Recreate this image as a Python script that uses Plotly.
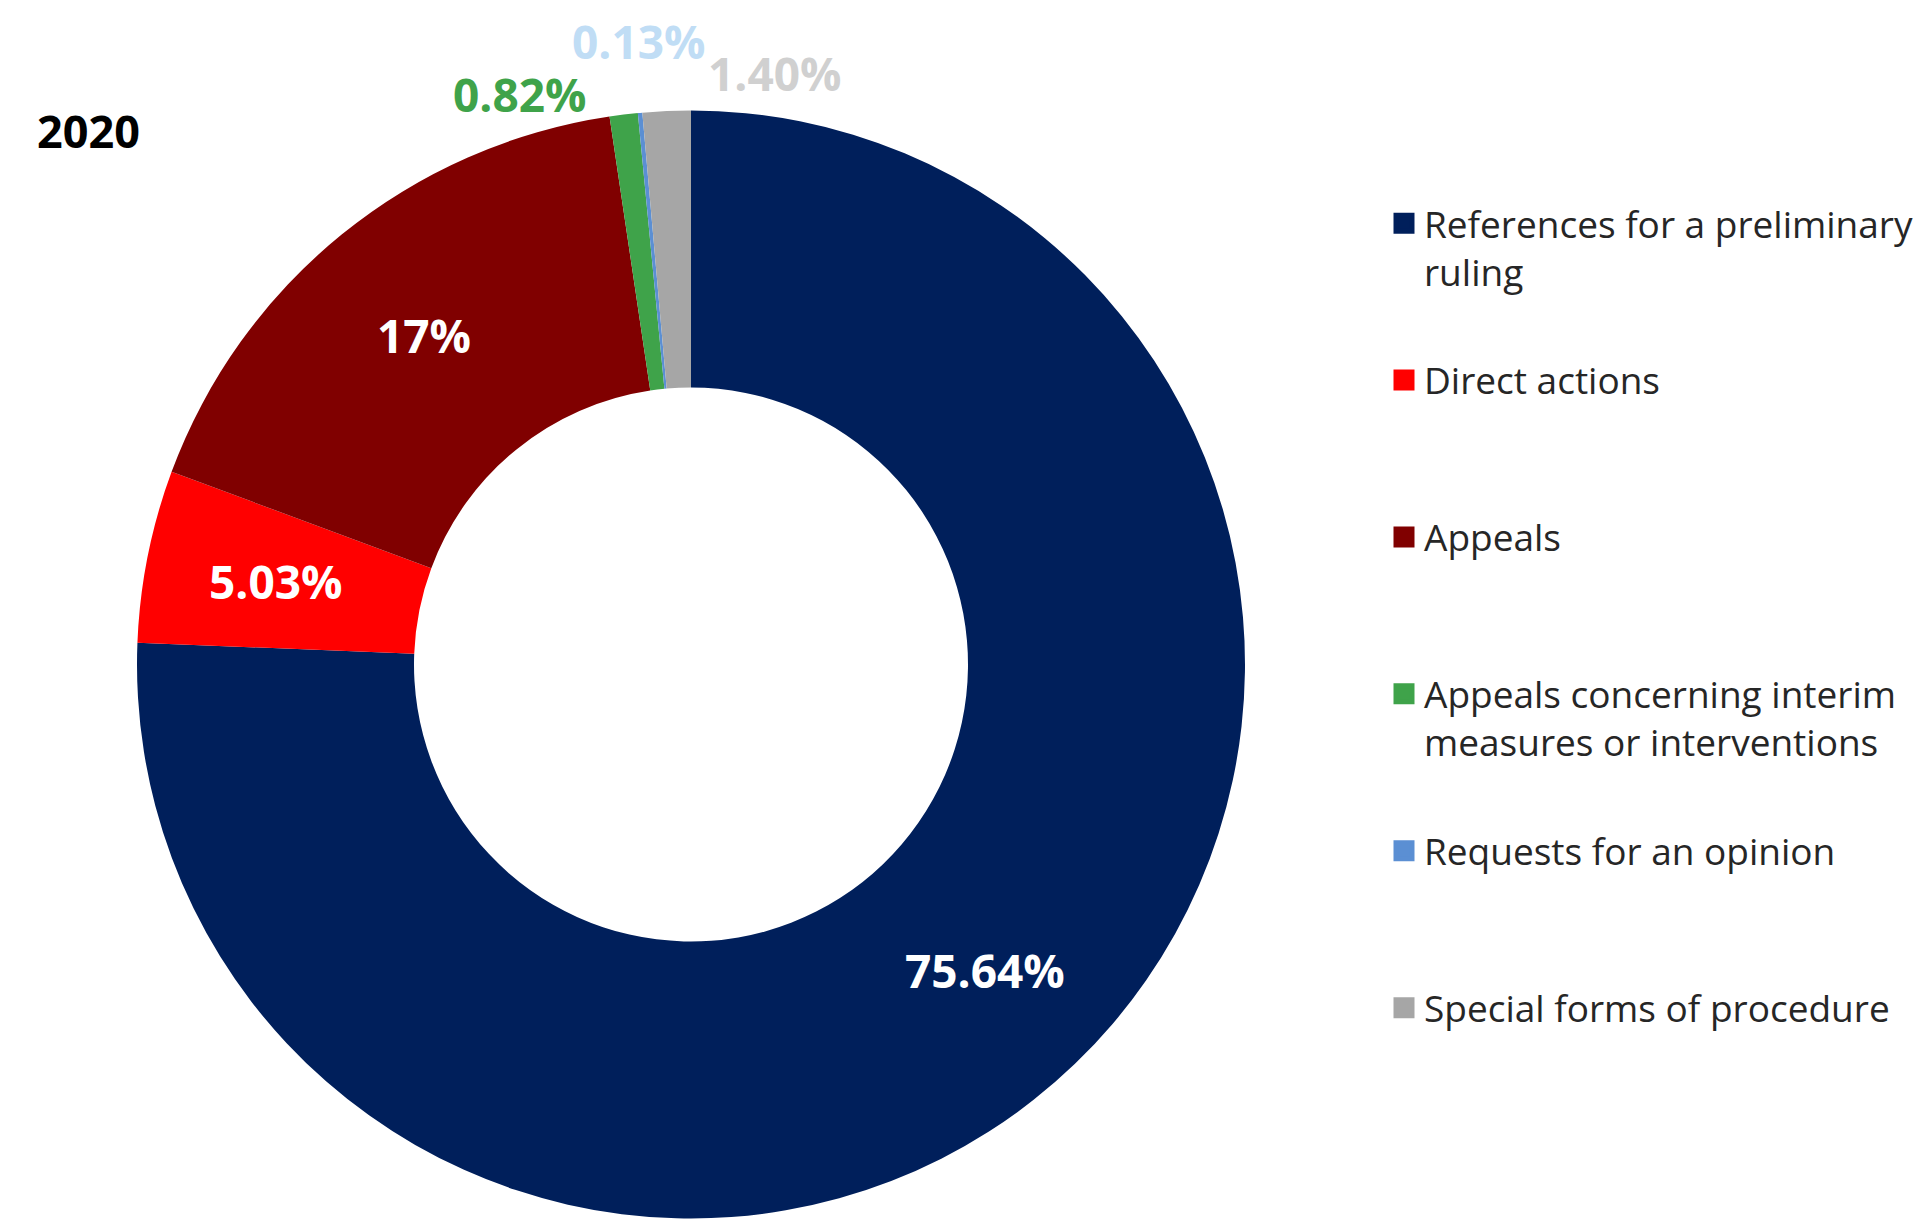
import math
import plotly.graph_objects as go

# ---- data ----
categories = [
    "References for a preliminary<br>ruling",
    "Direct actions",
    "Appeals",
    "Appeals concerning interim<br>measures or interventions",
    "Requests for an opinion",
    "Special forms of procedure",
]
values = [75.64, 5.03, 17, 0.82, 0.13, 1.40]
pct_labels = ["75.64%", "5.03%", "17%", "0.82%", "0.13%", "1.40%"]
colors = ["#001F5B", "#FF0000", "#800000", "#3FA34A", "#5B8FD3", "#A6A6A6"]
outside_label_colors = ["#3FA34A", "#C0DDF5", "#D0D0D0"]
year_label = "2020"

# figure size (page body has an 8px default margin)
W, H = 1915, 1211
FONT = "Open Sans"
HOLE = 0.5

# pie geometry in figure pixels
CX, CY, R = 683, 656.5, 554

fig = go.Figure()
fig.add_trace(go.Pie(
    labels=[c.replace("<br>", " ") for c in categories],
    values=values,
    textinfo="none",
    marker=dict(colors=colors, line=dict(width=0)),
    hole=HOLE,
    sort=False,
    direction="clockwise",
    rotation=0,
    showlegend=False,
    hoverinfo="skip",
    domain=dict(x=[(CX - R) / W, (CX + R) / W], y=[1 - (CY + R) / H, 1 - (CY - R) / H]),
))

# legend entries (one per category, same colours as the slices)
for i, (cat, col) in enumerate(zip(categories, colors)):
    name = "\u00a0<br>" + cat + ("" if "<br>" in cat else "<br>\u00a0")
    fig.add_trace(go.Scatter(
        x=[None], y=[None], mode="markers", name=name,
        legendgroup=f"g{i}",
        marker=dict(symbol="square", size=16, color=col,
                    line=dict(width=5, color=col)),
        hoverinfo="skip",
    ))

annotations = []
# labels inside the large slices, placed at the middle of each slice's ring
total = sum(values)
cum = 0.0
r_lab = R * (1 + HOLE) / 2 * 1.02
for v, t in zip(values, pct_labels):
    theta = 2 * math.pi * (cum + v / 2) / total
    cum += v
    if v < 5:
        continue
    px = CX + r_lab * math.sin(theta)
    py = CY - r_lab * math.cos(theta)
    annotations.append(dict(
        x=px / W, y=1 - py / H, xref="paper", yref="paper",
        xanchor="center", yanchor="middle", showarrow=False, text=t,
        font=dict(family=FONT, size=46, color="white", weight="bold"),
    ))

# labels for the small slices, set above the ring
small_idx = [i for i, v in enumerate(values) if v < 5]
outside_pos = [(511, 86, "middle"), (630, 0, "top"), (766, 65, "middle")]
for k, i in enumerate(small_idx):
    px, py, anc = outside_pos[k]
    annotations.append(dict(
        x=px / W, y=1 - py / H, xref="paper", yref="paper",
        xanchor="center", yanchor=anc, showarrow=False,
        text=pct_labels[i],
        font=dict(family=FONT, size=46, color=outside_label_colors[k], weight="bold"),
    ))
annotations.append(dict(
    x=80 / W, y=1 - 123 / H, xref="paper", yref="paper",
    xanchor="center", yanchor="middle", showarrow=False,
    text=year_label,
    font=dict(family=FONT, size=45, color="black", weight="bold"),
))

fig.update_layout(
    width=W, height=H,
    margin=dict(l=0, r=0, t=0, b=0),
    paper_bgcolor="white", plot_bgcolor="white",
    xaxis=dict(visible=False), yaxis=dict(visible=False),
    legend=dict(
        x=1376 / W, y=1 - 136.5 / H, xanchor="left", yanchor="top",
        font=dict(family=FONT, size=37, color="#262626"),
        tracegroupgap=9.6, bgcolor="rgba(0,0,0,0)",
    ),
    annotations=annotations,
)

fig.write_html("out.html")
